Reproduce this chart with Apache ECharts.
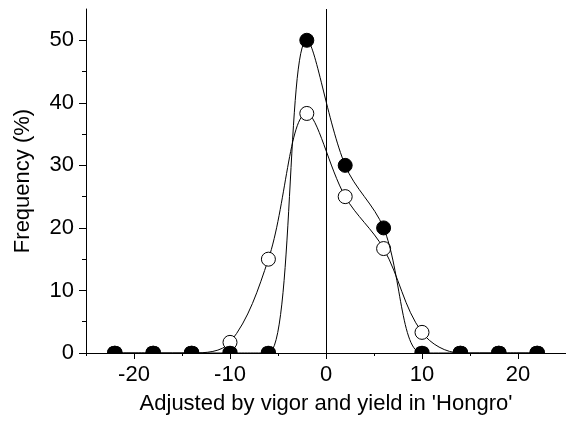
<!DOCTYPE html>
<html><head><meta charset="utf-8">
<script src="https://cdn.jsdelivr.net/npm/echarts@6/dist/echarts.min.js"></script>
<style>html,body{margin:0;padding:0;background:#fff}#c{width:566px;height:425px}</style>
</head><body><div id="c"></div>
<script>
var xValues = [-22, -18, -14, -10, -6, -2, 2, 6, 10, 14, 18, 22];
var filledValues = [0, 0, 0, 0, 0, 50, 30, 20, 0, 0, 0, 0];
var openValues = [0, 0, 0, 1.7, 15, 38.3, 25, 16.7, 3.3, 0, 0, 0];
var xTicks = [-20, -10, 0, 10, 20];
var xMinorTicks = [-25, -15, -5, 5, 15];
var yTicks = [0, 10, 20, 30, 40, 50];
var yMinorTicks = [5, 15, 25, 35, 45];

var font = 'Liberation Sans, Arial, sans-serif';
var FS = 22;
var MS = 14;
var HALF = 'path://M0,10 C0,-3.3333 20,-3.3333 20,10 Z';
var chart = echarts.init(document.getElementById('c'), null, {renderer: 'canvas'});
// points sitting on the x axis are clipped by the plot frame: show only their upper half
function onAxis(v) { return (Array.isArray(v) ? v[1] : v) === 0; }
function symFn(v) { return onAxis(v) ? HALF : 'circle'; }
function sizeFn(v) { return onAxis(v) ? [MS, MS / 2] : MS; }
function items(ys) {
  return xValues.map(function (x, i) {
    if (ys[i] === 0) {
      return {value: [x, ys[i]], symbol: HALF, symbolSize: [MS, MS / 2], symbolOffset: [0, -MS / 4]};
    }
    return {value: [x, ys[i]]};
  });
}
var G = {left: 86, right: 0, top: 9, bottom: 72};
var baseX = {type: 'value', min: -25, max: 25, interval: 5, position: 'bottom', splitLine: {show: false}};
var baseY = {type: 'value', min: 0, max: 55, interval: 5, position: 'left', splitLine: {show: false}};
chart.setOption({
  animation: false,
  backgroundColor: '#fff',
  grid: G,
  xAxis: [
    Object.assign({}, baseX, {
      name: "Adjusted by vigor and yield in 'Hongro'", nameLocation: 'middle', nameGap: 40,
      nameTextStyle: {color: '#000', fontSize: FS, fontFamily: font},
      axisLine: {show: true, onZero: false, lineStyle: {color: '#000', width: 1}},
      axisTick: {show: true, length: 6, customValues: xTicks, lineStyle: {color: '#000'}},
      axisLabel: {color: '#000', fontSize: FS, fontFamily: font, margin: 11, customValues: xTicks}
    }),
    Object.assign({}, baseX, {
      axisLine: {show: false, onZero: false},
      axisTick: {show: true, length: 3, customValues: xMinorTicks, lineStyle: {color: '#000'}},
      axisLabel: {show: false}
    })
  ],
  yAxis: [
    Object.assign({}, baseY, {
      name: 'Frequency (%)', nameLocation: 'middle', nameGap: 52,
      nameTextStyle: {color: '#000', fontSize: FS, fontFamily: font},
      axisLine: {show: true, onZero: false, lineStyle: {color: '#000', width: 1}},
      axisTick: {show: true, length: 7, customValues: yTicks, lineStyle: {color: '#000'}},
      axisLabel: {color: '#000', fontSize: FS, fontFamily: font, margin: 12, customValues: yTicks}
    }),
    Object.assign({}, baseY, {
      axisLine: {show: false, onZero: false},
      axisTick: {show: true, length: 4, customValues: yMinorTicks, lineStyle: {color: '#000'}},
      axisLabel: {show: false}
    })
  ],
  series: [
    {
      type: 'line', data: items(openValues), smooth: 0.35, z: 2,
      symbol: symFn, symbolSize: sizeFn,
      lineStyle: {color: '#000', width: 1},
      itemStyle: {color: '#fff', borderColor: '#000', borderWidth: 1},
      markLine: {
        silent: true, symbol: ['none', 'none'], label: {show: false},
        lineStyle: {color: '#000', width: 1, type: 'solid'},
        data: [{xAxis: 0}]
      }
    },
    {
      type: 'line', data: items(filledValues), smooth: 0.35, z: 3,
      symbol: symFn, symbolSize: sizeFn,
      lineStyle: {color: '#000', width: 1},
      itemStyle: {color: '#000', borderColor: '#000', borderWidth: 1}
    }
  ]
});
</script></body></html>
